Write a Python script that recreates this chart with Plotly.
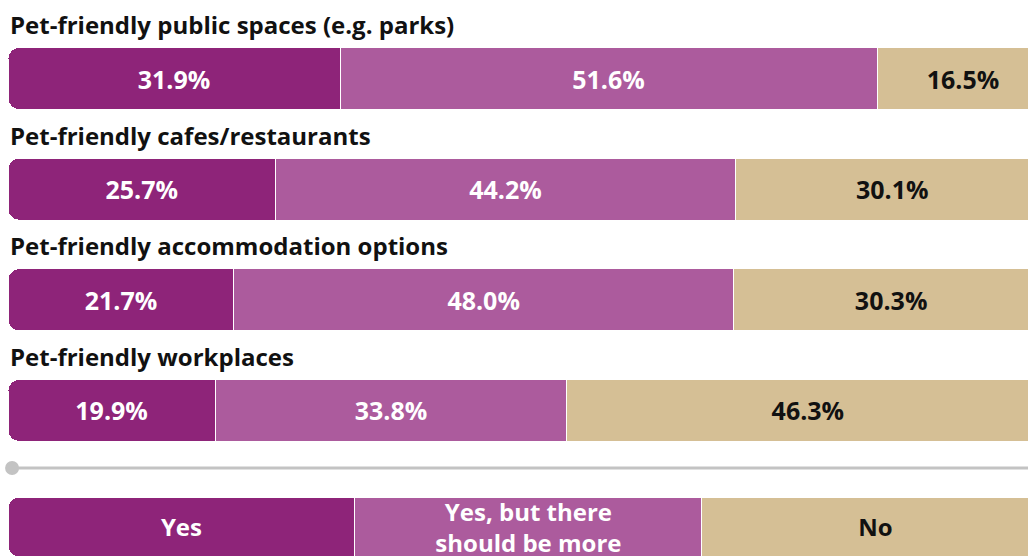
import plotly.graph_objects as go

# survey items, top to bottom
items = [
    "Pet-friendly public spaces (e.g. parks)",
    "Pet-friendly cafes/restaurants",
    "Pet-friendly accommodation options",
    "Pet-friendly workplaces",
]
yes = [31.9, 25.7, 21.7, 19.9]
yes_more = [51.6, 44.2, 48.0, 33.8]
no = [16.5, 30.1, 30.3, 46.3]

legend_labels = ["Yes", "Yes, but there<br>should be more", "No"]
legend_share = [100 / 3, 100 / 3, 100 / 3]

c_yes = "#8E2479"
c_more = "#AC5B9D"
c_no = "#D5BF95"
font = "Open Sans"

fig = go.Figure()

# stacked leftwards (negative side) so the rounded outer end of the stack sits on the left
series = [(no, c_no, "#111111"), (yes_more, c_more, "white"), (yes, c_yes, "white")]
for vals, col, tcol in series:
    fig.add_trace(go.Bar(
        y=items, x=[-v for v in vals], orientation="h", width=0.56,
        marker=dict(color=col, line=dict(color="white", width=1), cornerradius=11),
        text=[f"{v:.1f}%" for v in vals], textposition="inside",
        insidetextanchor="middle", textangle=0, constraintext="none",
        textfont=dict(family=font, size=25, color=tcol, weight="bold"),
        hoverinfo="skip", showlegend=False,
    ))

# legend strip at the bottom
leg = list(zip(legend_labels, legend_share, [c_yes, c_more, c_no], ["white", "white", "#111111"]))
for lab, share, col, tcol in reversed(leg):
    fig.add_trace(go.Bar(
        y=["legend"], x=[-share], orientation="h", width=1, yaxis="y2",
        marker=dict(color=col, line=dict(color="white", width=1), cornerradius=11),
        text=[lab], textposition="inside", insidetextanchor="middle",
        textangle=0, constraintext="none",
        textfont=dict(family=font, size=24, color=tcol, weight="bold"),
        hoverinfo="skip", showlegend=False,
    ))

for it in items:
    fig.add_annotation(
        x=0, xref="paper", xanchor="left", y=it, yref="y", yshift=54,
        text=f"<b>{it}</b>", showarrow=False,
        font=dict(family=font, size=24, color="#111111"),
    )

# separator line with a dot on the left
fig.add_shape(type="line", xref="paper", yref="paper", x0=0.004, x1=1,
              y0=0.1628, y1=0.1628, line=dict(color="#C3C3C3", width=3))
fig.add_shape(type="circle", xref="paper", yref="paper",
              xsizemode="pixel", ysizemode="pixel", xanchor=0.004, yanchor=0.1628,
              x0=-7, x1=7, y0=-7, y1=7,
              fillcolor="#C3C3C3", line=dict(width=0))

fig.update_layout(
    width=1028, height=559,
    margin=dict(l=8, r=0, t=0, b=0),
    paper_bgcolor="white", plot_bgcolor="white",
    barmode="stack", barcornerradius=11,
    xaxis=dict(range=[-100, -2.0], visible=False, fixedrange=True),
    yaxis=dict(type="category", categoryarray=items[::-1], range=[-0.5, 3.5],
               domain=[0.1667, 0.9585], visible=False, fixedrange=True),
    yaxis2=dict(type="category", range=[-0.5, 0.5], domain=[0.0036, 0.1109],
                visible=False, fixedrange=True),
    font=dict(family=font),
)

# drop the default page margin so the 1028x559 figure fills the window exactly
fig.write_html("out.html", config={"displayModeBar": False},
               post_script="document.body.style.margin='0';")
